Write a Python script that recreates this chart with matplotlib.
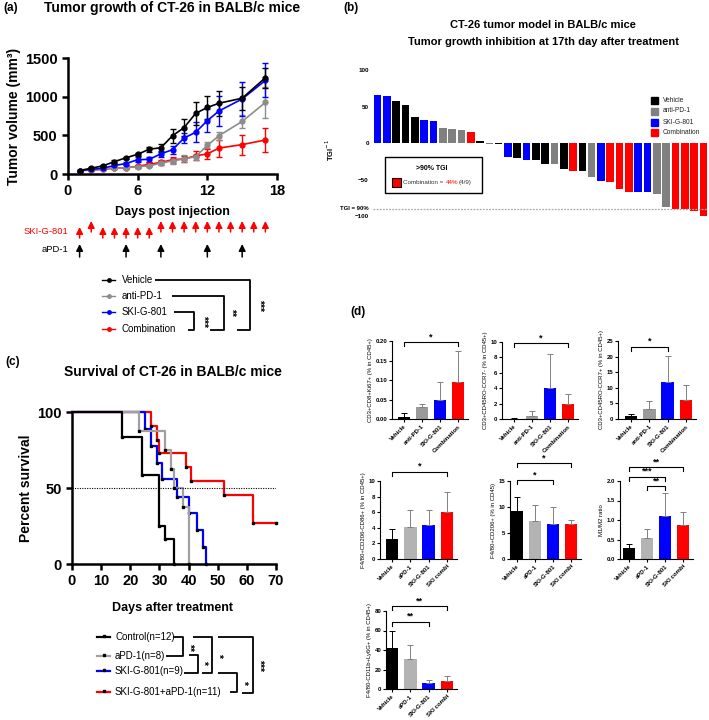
import matplotlib
matplotlib.use("Agg")
import matplotlib.pyplot as plt
from matplotlib.patches import Rectangle
import numpy as np

plt.rcParams['font.family'] = ['Liberation Sans', 'DejaVu Sans']

W, H = 709, 720
BLUE = '#0000ff'
RED = '#ff0000'
GRAY = '#8c8c8c'

# ---------------- (a) tumor growth ----------------
days = [1, 2, 3, 4, 5, 6, 7, 8, 9, 10, 11, 12, 13, 15, 17]
vehicle_vol = [45, 75, 105, 160, 210, 255, 320, 340, 495, 600, 785, 860, 915, 980, 1245]
vehicle_err = [8, 10, 12, 15, 15, 20, 35, 50, 90, 110, 145, 145, 160, 150, 130]
apd1_vol = [45, 55, 65, 75, 80, 95, 105, 140, 170, 195, 225, 370, 495, 680, 925]
apd1_err = [8, 8, 10, 10, 12, 15, 20, 30, 40, 45, 40, 40, 50, 80, 200]
ski_vol = [45, 60, 75, 110, 135, 185, 190, 260, 315, 465, 540, 690, 815, 970, 1210]
ski_err = [8, 10, 12, 20, 20, 30, 30, 40, 50, 60, 130, 150, 200, 220, 220]
combo_vol = [45, 50, 60, 75, 80, 100, 125, 150, 185, 195, 235, 260, 335, 380, 440]
combo_err = [8, 8, 10, 10, 12, 20, 25, 30, 40, 40, 60, 60, 110, 130, 150]

ski_dose_days = list(range(1, 18))
ski_raised_days = [2, 8, 9, 10, 11, 12, 13, 14, 15, 16, 17]
apd1_dose_days = [1, 5, 8, 12, 15]

# ---------------- (b) waterfall ----------------
tgi_values = [66, 65, 57, 52, 35, 31, 30, 21, 19, 18, 15, 3, -1, -1.5,
              -18.5, -20, -23, -23, -29, -29, -35, -38, -39, -46,
              -52, -54, -63, -67, -67, -67, -70, -88, -90, -91, -93, -100]
tgi_groups = ['SKI-G-801', 'SKI-G-801', 'Vehicle', 'Vehicle', 'Vehicle', 'SKI-G-801', 'SKI-G-801',
              'anti-PD-1', 'anti-PD-1', 'anti-PD-1', 'Combination', 'Vehicle', 'anti-PD-1', 'Vehicle',
              'SKI-G-801', 'Vehicle', 'SKI-G-801', 'Vehicle', 'Vehicle', 'anti-PD-1', 'Vehicle',
              'Combination', 'Vehicle', 'anti-PD-1', 'SKI-G-801', 'Combination', 'Combination',
              'Combination', 'SKI-G-801', 'SKI-G-801', 'anti-PD-1', 'anti-PD-1', 'Combination',
              'Combination', 'Combination', 'Combination']
group_names = ['Vehicle', 'anti-PD-1', 'SKI-G-801', 'Combination']

# ---------------- (c) survival ----------------
control_t = [0, 17, 24, 30, 32, 35]
control_s = [100, 83.3, 58.3, 25, 16.7, 0]
apd1_t = [0, 23, 32, 34, 35, 38, 40]
apd1_s = [100, 87.5, 75, 62.5, 50, 37.5, 0]
ski_t = [0, 25, 27, 29, 31, 36, 40, 43, 45, 46]
ski_s = [100, 88.9, 77.8, 66.7, 55.6, 44.4, 33.3, 22.2, 11.1, 0]
combo_t = [0, 27, 29, 30, 39, 41, 52, 62, 70]
combo_s = [100, 90.9, 81.8, 72.7, 63.6, 54.5, 45.5, 27.3, 27.3]

# ---------------- (d) flow cytometry ----------------
labels_d1 = ['Vehicle', 'anti-PD-1', 'SKI-G-801', 'Combination']
labels_d2 = ['Vehicle', 'aPD-1', 'SKI-G-801', 'SKI combi']
ki67_mean = [0.005, 0.030, 0.050, 0.094]
ki67_err = [0.0095, 0.008, 0.046, 0.081]
tem_mean = [0.05, 0.4, 4.0, 1.9]
tem_err = [0.05, 0.6, 4.5, 1.3]
tcm_mean = [1.0, 3.2, 12.0, 6.0]
tcm_err = [0.6, 2.7, 8.2, 4.9]
m1_mean = [2.6, 4.05, 4.3, 6.05]
m1_err = [1.2, 2.2, 2.0, 2.5]
m2_mean = [9.2, 7.4, 6.8, 6.75]
m2_err = [2.8, 3.0, 3.2, 0.7]
ratio_mean = [0.28, 0.55, 1.1, 0.87]
ratio_err = [0.1, 0.21, 0.6, 0.33]
mdsc_mean = [41.8, 30.6, 5.8, 8.3]
mdsc_err = [18, 14.7, 3.0, 4.6]


fig = plt.figure(figsize=(W / 100, H / 100), dpi=100)


def px_axes(x0, y0, x1, y1):
    return fig.add_axes([x0 / W, 1 - y1 / H, (x1 - x0) / W, (y1 - y0) / H])


def bold_axes(ax, lw=1.8):
    for s in ['top', 'right']:
        ax.spines[s].set_visible(False)
    for s in ['left', 'bottom']:
        ax.spines[s].set_linewidth(lw)
    ax.tick_params(width=lw, length=4, labelsize=10.5)
    for t in ax.get_xticklabels() + ax.get_yticklabels():
        t.set_fontweight('bold')


# ---- (a)
ax_a = px_axes(68, 58, 277, 174)
series_a = [(combo_vol, combo_err, RED), (apd1_vol, apd1_err, GRAY),
            (ski_vol, ski_err, BLUE), (vehicle_vol, vehicle_err, 'black')]
for vol, err, c in series_a:
    ax_a.errorbar(days, vol, yerr=err, fmt='-o', color=c, ms=3.5, lw=1.2,
                  capsize=2.5, elinewidth=1, capthick=1, clip_on=False)
ax_a.set_xlim(0, 18)
ax_a.set_ylim(0, 1500)
ax_a.set_xticks([0, 6, 12, 18])
ax_a.set_yticks([0, 500, 1000, 1500])
bold_axes(ax_a)
ax_a.set_ylabel('Tumor volume (mm³)', fontsize=10, fontweight='bold', labelpad=3)

ax_arr = px_axes(68, 215, 277, 260)
ax_arr.set_xlim(0, 18)
ax_arr.set_ylim(260, 215)
ax_arr.axis('off')
arrow_style = '-|>,head_length=0.5,head_width=0.25'
for d in ski_dose_days:
    top, bot = (221, 232) if d in ski_raised_days else (227, 238)
    ax_arr.annotate('', xy=(d, top), xytext=(d, bot),
                    arrowprops=dict(arrowstyle=arrow_style, color=RED, lw=1.1,
                                    shrinkA=0, shrinkB=0, mutation_scale=8))
for d in apd1_dose_days:
    ax_arr.annotate('', xy=(d, 244), xytext=(d, 257),
                    arrowprops=dict(arrowstyle=arrow_style, color='black', lw=1.1,
                                    shrinkA=0, shrinkB=0, mutation_scale=8))

# ---- (b)
ax_b = px_axes(373, 70, 708, 216)
color_map = {'Vehicle': 'black', 'anti-PD-1': '#808080', 'SKI-G-801': BLUE, 'Combination': RED}
xb = np.arange(len(tgi_values))
ax_b.bar(xb, tgi_values, width=0.82, color=[color_map[g] for g in tgi_groups], clip_on=False)
ax_b.axhline(-90, color='#aaaaaa', lw=0.9, ls=(0, (1.5, 1)), xmin=0, xmax=1)
ax_b.set_xlim(-0.5, len(tgi_values) - 0.5)
ax_b.set_ylim(-100, 100)
ax_b.set_yticks([100, 50, 0, -50, -100])
ax_b.set_xticks([])
for s in ax_b.spines.values():
    s.set_visible(False)
ax_b.tick_params(axis='y', length=0, labelsize=4.5, pad=3)
for t in ax_b.get_yticklabels():
    t.set_fontweight('bold')

# ---- (c)
ax_c = px_axes(72, 412, 276, 564)
for t, s, c in [(combo_t, combo_s, RED), (ski_t, ski_s, BLUE),
                (apd1_t, apd1_s, '#a0a0a0'), (control_t, control_s, 'black')]:
    ax_c.step(t, s, where='post', color=c, lw=1.6, clip_on=False)
    ax_c.plot(t[1:], s[1:], 's', color='black', ms=1.8, clip_on=False)
ax_c.axhline(50, color='black', lw=0.8, ls=(0, (1, 1.2)))
ax_c.set_xlim(0, 70)
ax_c.set_ylim(0, 100)
ax_c.set_xticks(range(0, 71, 10))
ax_c.set_yticks([0, 50, 100])
bold_axes(ax_c)
ax_c.set_ylabel('Percent survival', fontsize=10, fontweight='bold', labelpad=3)


# ---- (d)
def bar_panel(box, left, labels, means, errs, ylim, yticks, fmt, ylabel, sigs, gray):
    ax = px_axes(*box)
    x = np.arange(len(means))
    colors = ['black', gray, BLUE, RED]
    ax.bar(x, means, width=0.68, color=colors)
    for xi, m, e, c in zip(x, means, errs, colors):
        ec = 'black' if c == 'black' else '#808080'
        ax.errorbar(xi, m, yerr=[[0], [e]], color=ec, lw=0.7, capsize=2, capthick=0.7)
    ax.set_xlim(left, 3.55)
    ax.set_ylim(*ylim)
    ax.set_yticks(yticks)
    ax.set_yticklabels([fmt % v for v in yticks])
    ax.set_xticks(x)
    ax.set_xticklabels(labels, rotation=45, ha='right', rotation_mode='anchor')
    for s in ['top', 'right']:
        ax.spines[s].set_visible(False)
    for s in ['left', 'bottom']:
        ax.spines[s].set_linewidth(0.8)
    ax.tick_params(labelsize=4.3, width=0.8, length=2, pad=1.5)
    for t in ax.get_xticklabels() + ax.get_yticklabels():
        t.set_fontweight('bold')
    ax.set_ylabel(ylabel, fontsize=4.3, labelpad=2)
    down = 0.05 * ylim[1]
    for i, j, h, lab in sigs:
        ax.plot([i, i, j, j], [h - down, h, h, h - down], color='black', lw=0.8, clip_on=False)
        ax.text((i + j) / 2, h + 0.01 * ylim[1], lab, ha='center', va='bottom',
                fontsize=6.5, fontweight='bold')
    return ax


bar_panel((392, 341, 468, 419), -0.67, labels_d1, ki67_mean, ki67_err, (0, 0.2),
          [0, 0.05, 0.10, 0.15, 0.20], '%.2f', 'CD3+CD8+Ki67+ (% in CD45+)',
          [(0, 3, 0.197, '*')], '#9a9a9a')
bar_panel((502, 342, 578, 419), -0.67, labels_d1, tem_mean, tem_err, (0, 10),
          [0, 2, 4, 6, 8, 10], '%d', 'CD3+CD45RO-CCR7- (% in CD45+)',
          [(0, 3, 9.85, '*')], '#9a9a9a')
bar_panel((618, 341, 696, 419), -0.71, labels_d1, tcm_mean, tcm_err, (0, 25),
          [0, 5, 10, 15, 20, 25], '%d', 'CD3+CD45RO-CCR7+ (% in CD45+)',
          [(0, 2, 23.2, '*')], '#9a9a9a')
bar_panel((380, 481, 457, 559), -0.66, labels_d2, m1_mean, m1_err, (0, 10),
          [0, 2, 4, 6, 8, 10], '%d', 'F4/80+CD206-CD86+ (% in CD45+)',
          [(0, 3, 11.2, '*')], '#b3b3b3')
bar_panel((510, 481, 581, 559), -0.39, labels_d2, m2_mean, m2_err, (0, 15),
          [0, 5, 10, 15], '%d', 'F4/80+CD206+ (% in CD45)',
          [(0, 2, 15.2, '*'), (0, 3, 18.4, '*')], '#b3b3b3')
bar_panel((620, 481, 693, 559), -0.5, labels_d2, ratio_mean, ratio_err, (0, 2.0),
          [0, 0.5, 1.0, 1.5, 2.0], '%.1f', 'M1/M2 ratio',
          [(1, 2, 1.86, '**'), (0, 2, 2.11, '***'), (0, 3, 2.36, '**')], '#b3b3b3')
bar_panel((386, 611, 457, 689), -0.33, labels_d2, mdsc_mean, mdsc_err, (0, 80),
          [0, 20, 40, 60, 80], '%d', 'F4/80-CD11b+Ly6G+ (% in CD45+)',
          [(0, 2, 69, '**'), (0, 3, 85, '**')], '#b3b3b3')

# ---------------- overlay: titles, legends, brackets ----------------
ov = fig.add_axes([0, 0, 1, 1], zorder=10)
ov.set_xlim(0, W)
ov.set_ylim(H, 0)
ov.axis('off')
ov.patch.set_alpha(0)


def bracket(pts, lw=1.3):
    xs, ys = zip(*pts)
    ov.plot(xs, ys, color='black', lw=lw, solid_capstyle='butt')


for lab, x, y in [('(a)', 3, 8), ('(b)', 343, 8), ('(c)', 5, 362), ('(d)', 350, 312)]:
    ov.text(x, y, lab, fontsize=8.5, fontweight='bold', va='center')

ov.text(172, 8, 'Tumor growth of CT-26 in BALB/c mice', fontsize=10, fontweight='bold',
        ha='center', va='center')
ov.text(172, 212, 'Days post injection', fontsize=9, fontweight='bold', ha='center', va='center')
ov.text(68, 232, 'SKI-G-801', fontsize=6.8, color=RED, ha='right', va='center')
ov.text(68, 249, 'aPD-1', fontsize=6.8, ha='right', va='center')

# legend (a)
for name, c, y in [('Vehicle', 'black', 280), ('anti-PD-1', GRAY, 296),
                   ('SKI-G-801', BLUE, 312), ('Combination', RED, 329)]:
    ov.plot([102, 115], [y, y], color=c, lw=1)
    ov.plot([108.5], [y], 'o', color=c, ms=2.5)
    ov.text(122, y, name, fontsize=7, va='center')
bracket([(155, 280), (250, 280), (250, 330), (237, 330)])
bracket([(172, 296), (224, 296), (224, 330), (210, 330)])
bracket([(174, 312), (194, 312), (194, 330), (188, 330)])
for x, y, s in [(259, 305, '***'), (231, 312, '**'), (203, 321, '***')]:
    ov.text(x, y, s, fontsize=7.5, fontweight='bold', rotation=270, ha='center', va='center')

# (b) titles and legend
ov.text(543, 25, 'CT-26 tumor model in BALB/c mice', fontsize=8, fontweight='bold',
        ha='center', va='center')
ov.text(543, 42, 'Tumor growth inhibition at 17th day after treatment', fontsize=8,
        fontweight='bold', ha='center', va='center')
ov.text(330, 150, 'TGI$^{-1}$', fontsize=5.5, fontweight='bold', rotation=90, ha='center', va='center')
ov.text(369, 208.5, 'TGI = 90%', fontsize=4.3, fontweight='bold', ha='right', va='center')
for name, y in zip(group_names, [100, 111, 122, 132]):
    ov.add_patch(Rectangle((651, y - 3.5), 7, 7, color=color_map[name]))
    ov.text(663, y, name, fontsize=4.8, va='center', color='#222222')
ov.add_patch(Rectangle((385, 157), 97, 36, fill=False, ec='black', lw=1))
ov.text(432, 169, '>90% TGI', fontsize=5, fontweight='bold', ha='center', va='center')
ov.add_patch(Rectangle((392, 178), 9, 9, fc=RED, ec='black', lw=0.8))
ov.text(403, 182.5, 'Combination =', fontsize=4.5, va='center', color='#333333')
ov.text(446, 182.5, '44%', fontsize=4.5, va='center', color=RED)
ov.text(459, 182.5, '(4/9)', fontsize=4.5, va='center', color='#333333')

# (c) titles, legend, brackets
ov.text(173, 372, 'Survival of CT-26 in BALB/c mice', fontsize=10, fontweight='bold',
        ha='center', va='center')
ov.text(173, 608, 'Days after treatment', fontsize=9, fontweight='bold', ha='center', va='center')
for name, c, y in [('Control(n=12)', 'black', 637), ('aPD-1(n=8)', '#a0a0a0', 656),
                   ('SKI-G-801(n=9)', BLUE, 671), ('SKI-G-801+aPD-1(n=11)', RED, 692)]:
    ov.plot([97, 110], [y, y], color=c, lw=1.6)
    ov.plot([103.5], [y - 1], 's', color='black', ms=1.5)
    ov.text(115, y, name, fontsize=7, va='center')
bracket([(173, 637), (183, 637), (183, 656), (166, 656)])
bracket([(189, 655), (198, 655), (198, 673), (184, 673)])
bracket([(193, 637), (212, 637), (212, 673), (202, 673)])
bracket([(218, 673), (237, 673), (237, 692), (230, 692)])
bracket([(218, 637), (253, 637), (253, 693), (242, 693)])
for x, y, s in [(189, 647, '**'), (203, 662, '*'), (218, 655, '*'), (243, 682, '*'), (259, 665, '***')]:
    ov.text(x, y, s, fontsize=7.5, fontweight='bold', rotation=270, ha='center', va='center')

fig.savefig('out.png', dpi=100)
